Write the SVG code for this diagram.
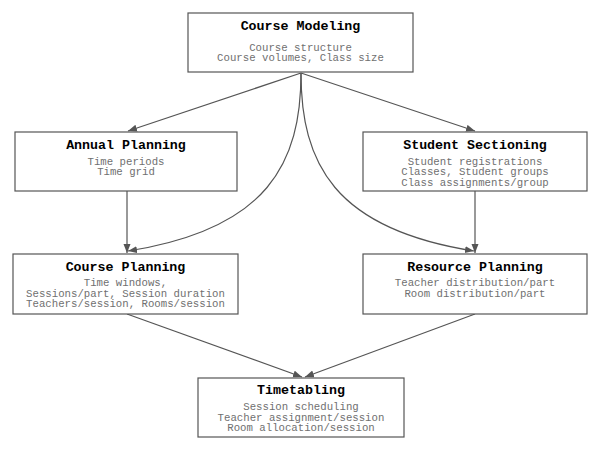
<svg xmlns="http://www.w3.org/2000/svg" width="604" height="449" viewBox="0 0 604 449">
<style>
.box{fill:#fff;stroke:#555;stroke-width:1.2}
.t{font-family:"Liberation Mono","Courier New",monospace;font-weight:bold;font-size:13.3px;fill:#000;text-anchor:middle}
.b{font-family:"Liberation Mono","Courier New",monospace;font-size:10.7px;fill:#707070;text-anchor:middle}
.c{fill:none;stroke:#555;stroke-width:1.2;marker-end:url(#ah)}
</style>
<defs>
<marker id="ah" markerUnits="userSpaceOnUse" markerWidth="10" markerHeight="8" refX="9" refY="3.5" orient="auto">
<path d="M0,0 L9,3.5 L0,7 z" fill="#555"/>
</marker>
</defs>
<rect width="604" height="449" fill="#fff"/>
<g id="connectors">
<path class="c" d="M301,73 L128,131"/>
<path class="c" d="M301,73 L475,131"/>
<path class="c" d="M301,73 C301,163 268,229 128,251"/>
<path class="c" d="M301,73 C301,163 334,229 474,251"/>
<path class="c" d="M127,191 L127,253"/>
<path class="c" d="M475,191 L475,253"/>
<path class="c" d="M127,314 L302,377"/>
<path class="c" d="M475,314 L305,377"/>
</g>
<g id="course-modeling">
<rect class="box" x="188" y="13" width="225" height="59"/>
<text class="t" x="300.5" y="29.5">Course Modeling</text>
<text class="b" x="300.5" y="50.5">Course structure</text>
<text class="b" x="300.5" y="61">Course volumes, Class size</text>
</g>
<g id="annual-planning">
<rect class="box" x="15" y="132" width="222" height="59"/>
<text class="t" x="126" y="148.5">Annual Planning</text>
<text class="b" x="126" y="164.5">Time periods</text>
<text class="b" x="126" y="175">Time grid</text>
</g>
<g id="student-sectioning">
<rect class="box" x="363" y="132" width="224" height="59"/>
<text class="t" x="475" y="148.5">Student Sectioning</text>
<text class="b" x="475" y="164.5">Student registrations</text>
<text class="b" x="475" y="175">Classes, Student groups</text>
<text class="b" x="475" y="185.5">Class assignments/group</text>
</g>
<g id="course-planning">
<rect class="box" x="13" y="254" width="225" height="60"/>
<text class="t" x="125.5" y="271">Course Planning</text>
<text class="b" x="125.5" y="286">Time windows,</text>
<text class="b" x="125.5" y="296.5">Sessions/part, Session duration</text>
<text class="b" x="125.5" y="307">Teachers/session, Rooms/session</text>
</g>
<g id="resource-planning">
<rect class="box" x="363" y="254" width="224" height="60"/>
<text class="t" x="475" y="271">Resource Planning</text>
<text class="b" x="475" y="286">Teacher distribution/part</text>
<text class="b" x="475" y="296.5">Room distribution/part</text>
</g>
<g id="timetabling">
<rect class="box" x="198" y="378" width="206" height="59"/>
<text class="t" x="301" y="394">Timetabling</text>
<text class="b" x="301" y="410">Session scheduling</text>
<text class="b" x="301" y="420.5">Teacher assignment/session</text>
<text class="b" x="301" y="431">Room allocation/session</text>
</g>
</svg>
